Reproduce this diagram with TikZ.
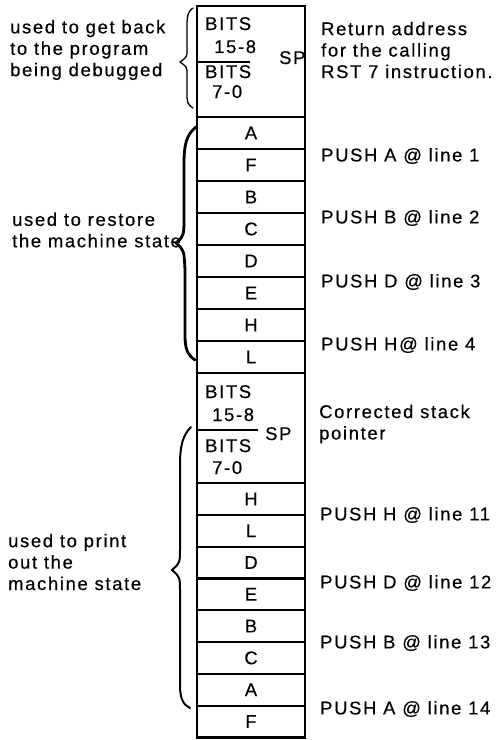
\documentclass[tikz,border=0pt]{standalone}
\usepackage{fontspec}
\setmainfont{Liberation Sans}[LetterSpace=9,FakeBold=0.4]
\newcommand\myfont{\fontsize{18.5}{21.5}\selectfont}
\begin{document}
\begin{tikzpicture}[x=1bp,y=-1bp,
  cell/.style={draw, line width=2.2bp, minimum width=108bp, minimum height=32bp, inner sep=0pt, font=\myfont},
  txt/.style={inner sep=0pt, font=\myfont, align=left, anchor=west},
  bits/.style={inner sep=0pt, font=\myfont, anchor=base west},
  bracethin/.style={line width=1.3bp, line cap=round, line join=round},
  bracethick/.style={line width=2.8bp, line cap=round, line join=round}]
\useasboundingbox (0,0) rectangle (500,740);
% top SP block
\node[cell, minimum height=111bp] (sp1) at (251,61.5) {};
\coordinate (d1) at (250,62);
\draw[line width=1.5bp] (sp1.west |- d1) -- (d1);
\node[bits] (b1) at (205,30) {BITS};
\node[bits] (b2) at (214,53) {15-8};
\node[bits] (b3) at (205,78) {BITS};
\node[bits] (b4) at (212,98) {7-0};
\node[bits] (sp1l) at (279,64) {SP};
% upper registers
\foreach \t [count=\i] in {A,F,B,C,D,E,H,L}
  \node[cell] (u\i) at (251,{117+32*\i-16}) {\t};
% second SP block
\node[cell, minimum height=110bp] (sp2) at (251,428) {};
\coordinate (d2) at (258,430);
\draw[line width=1.5bp] (sp2.west |- d2) -- (d2);
\node[bits] (c1) at (205,398) {BITS};
\node[bits] (c2) at (212,421) {15-8};
\node[bits] (c3) at (205,452) {BITS};
\node[bits] (c4) at (212,474) {7-0};
\node[bits] (sp2l) at (265,440) {SP};
% lower registers
\foreach \t [count=\i] in {H,L,D,E,B,C,A,F}
  \node[cell, minimum height=31.8bp] (w\i) at (251,{483+31.8*\i-15.9}) {\t};
% right labels
\node[txt] (ret) at (321,50) {Return address\\for the calling\\RST 7 instruction.};
\node[txt] (p1) at (321,156) {PUSH A @ line 1};
\node[txt] (p2) at (321,218) {PUSH B @ line 2};
\node[txt] (p3) at (321,282) {PUSH D @ line 3};
\node[txt] (p4) at (321,345) {PUSH H@ line 4};
\node[txt] (cor) at (319,424) {Corrected stack\\pointer};
\node[txt] (p11) at (320,515) {PUSH H @ line 11};
\node[txt] (p12) at (320,583) {PUSH D @ line 12};
\node[txt] (p13) at (320,643) {PUSH B @ line 13};
\node[txt] (p14) at (320,709) {PUSH A @ line 14};
% left labels
\node[txt] (l1) at (10,50) {used to get back\\to the program\\being debugged};
\node[txt] (l2) at (12,230) {used to restore\\the machine state};
\node[txt] (l3) at (8,562) {used to print\\out the\\machine state};
% braces
\draw[bracethin] (193,8) .. controls (186,12) and (187,22) .. (187,35) -- (187,50)
  .. controls (187,57) .. (180,62) .. controls (187,67) .. (187,74) -- (187,92)
  .. controls (187,102) and (187,104) .. (193,108);
\draw[bracethick] (196,127) .. controls (186,135) and (184,145) .. (184,165) -- (184,215)
  .. controls (184,236) .. (176,243) .. controls (184,250) .. (185,270) -- (185,335)
  .. controls (185,350) and (188,355) .. (195,360);
\draw[line width=2bp, line cap=round, line join=round]
  (191,427) .. controls (183,435) and (180,445) .. (180,465) -- (180,548)
  .. controls (180,563) .. (172,570) .. controls (180,577) .. (180,592) -- (180,685)
  .. controls (180,700) and (184,705) .. (190,708);
\end{tikzpicture}
\end{document}
